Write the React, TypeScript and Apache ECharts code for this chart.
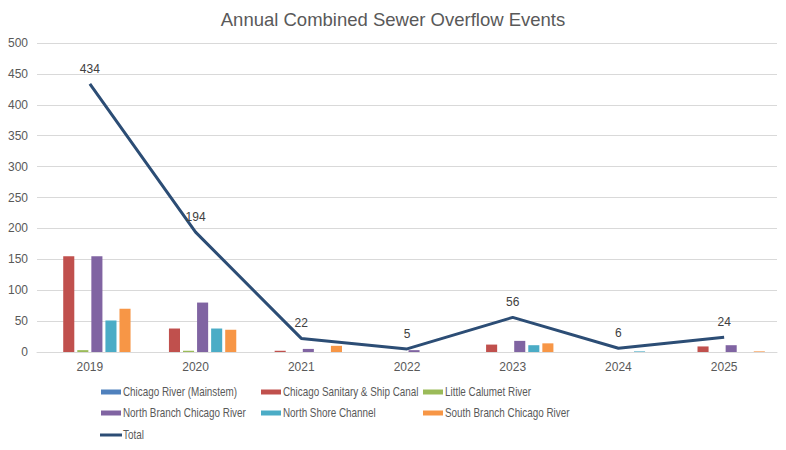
import React, { useEffect, useRef } from "react";
import * as echarts from "echarts";

const years = ["2019", "2020", "2021", "2022", "2023", "2024", "2025"];
const chicagoMainstem = [0, 0, 0, 0, 0, 0, 0];
const sanitaryShipCanal = [155, 38, 2, 0, 12, 0, 9];
const littleCalumet = [3, 2, 0, 0, 0, 0, 0];
const northBranch = [155, 80, 5, 3, 18, 0, 11];
const northShore = [51, 38, 0, 0, 11, 1, 0];
const southBranch = [70, 36, 10, 0, 14, 0, 1];
const total = [434, 194, 22, 5, 56, 6, 24];

const seriesNames = [
  "Chicago River (Mainstem)",
  "Chicago Sanitary & Ship Canal",
  "Little Calumet River",
  "North Branch Chicago River",
  "North Shore Channel",
  "South Branch Chicago River",
];
const seriesColors = ["#4F81BD", "#C0504D", "#9BBB59", "#8064A2", "#4BACC6", "#F79646"];
const totalColor = "#2C4D75";

const FONT = "'Liberation Sans', Arial, sans-serif";

export default function App() {
  const ref = useRef<HTMLDivElement>(null);
  useEffect(() => {
    const chart = echarts.init(ref.current!, null, { renderer: "svg" });
    const values = [chicagoMainstem, sanitaryShipCanal, littleCalumet, northBranch, northShore, southBranch];
    const colX = [101, 261, 423];
    const rowY = [392, 413, 435];
    const legendEls: any[] = [];
    const addItem = (i: number, name: string, color: string, isLine: boolean) => {
      const x = colX[i % 3];
      const y = rowY[Math.floor(i / 3)];
      legendEls.push(
        isLine
          ? { type: "rect", shape: { x: x - 1, y: y - 1.5, width: 22, height: 3 }, style: { fill: color } }
          : { type: "rect", shape: { x, y: y - 2.5, width: 20, height: 5 }, style: { fill: color } }
      );
      legendEls.push({
        type: "text",
        x: x + 22,
        y,
        scaleX: 0.79,
        style: {
          text: name,
          fill: "#595959",
          font: `12.5px ${FONT}`,
          textVerticalAlign: "middle",
          verticalAlign: "middle",
        },
      });
    };
    seriesNames.forEach((n, i) => addItem(i, n, seriesColors[i], false));
    addItem(6, "Total", totalColor, true);

    chart.setOption({
      animation: false,
      title: {
        text: "Annual Combined Sewer Overflow Events",
        left: "center",
        top: 5,
        textStyle: { color: "#595959", fontSize: 18.5, fontWeight: "normal", fontFamily: FONT },
      },
      grid: { left: 37, right: 9, top: 43, bottom: 98 },
      graphic: legendEls,
      xAxis: {
        type: "category",
        data: years,
        axisLine: { lineStyle: { color: "#d9d9d9" } },
        axisTick: { show: false },
        axisLabel: { color: "#595959", fontSize: 12, fontFamily: FONT, margin: 9 },
      },
      yAxis: {
        type: "value",
        min: 0,
        max: 500,
        interval: 50,
        axisLine: { show: false },
        axisTick: { show: false },
        axisLabel: { color: "#595959", fontSize: 12, fontFamily: FONT, margin: 9 },
        splitLine: { lineStyle: { color: "#d9d9d9" } },
      },
      series: [
        ...seriesNames.map((name, i) => ({
          name,
          type: "bar",
          data: values[i],
          itemStyle: { color: seriesColors[i] },
          barGap: "27%",
          barCategoryGap: "23%",
        })),
        {
          name: "Total",
          type: "line",
          data: total,
          symbol: "circle",
          symbolSize: 0,
          showSymbol: true,
          lineStyle: { color: totalColor, width: 3 },
          itemStyle: { color: totalColor },
          label: {
            show: true,
            position: "top",
            distance: 9,
            color: "#404040",
            fontSize: 12,
            fontFamily: FONT,
          },
          z: 5,
        },
      ],
    });
    return () => chart.dispose();
  }, []);
  return <div ref={ref} style={{ width: 786, height: 450, position: "absolute", left: 0, top: 0 }} />;
}
